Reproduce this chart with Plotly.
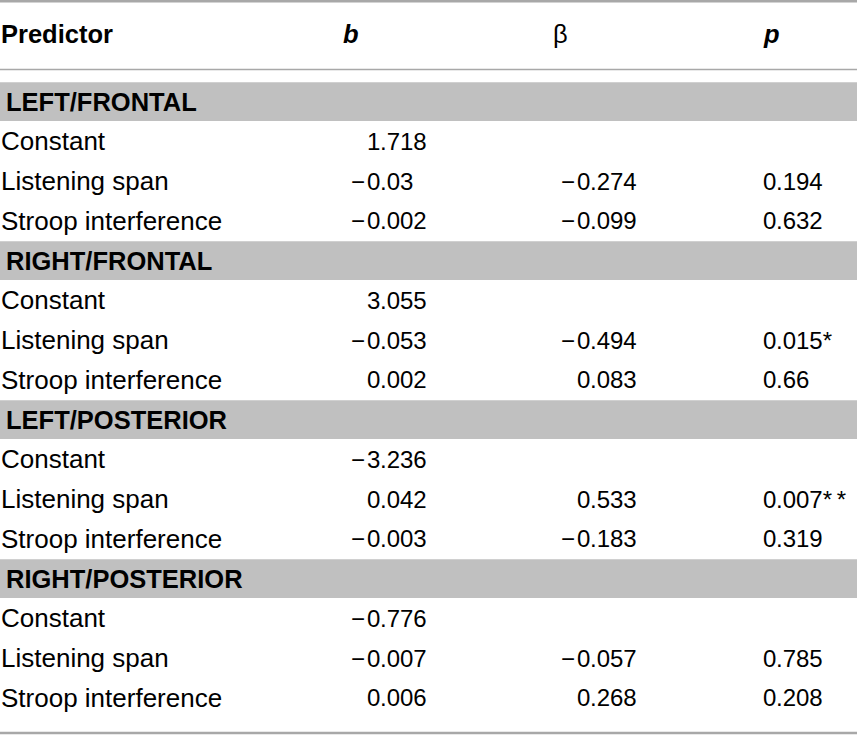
import plotly.graph_objects as go

# table content
sections = ["LEFT/FRONTAL", "RIGHT/FRONTAL", "LEFT/POSTERIOR", "RIGHT/POSTERIOR"]
predictors = ["Constant", "Listening span", "Stroop interference"]
headers = ["Predictor", "<b><i>b</i></b>", "β", "<b><i>p</i></b>"]

b_values = [[1.718, -0.03, -0.002],
            [3.055, -0.053, 0.002],
            [-3.236, 0.042, -0.003],
            [-0.776, -0.007, 0.006]]
beta_values = [[None, -0.274, -0.099],
               [None, -0.494, 0.083],
               [None, 0.533, -0.183],
               [None, -0.057, 0.268]]
p_values = [[None, 0.194, 0.632],
            [None, 0.015, 0.66],
            [None, 0.007, 0.319],
            [None, 0.785, 0.208]]
p_stars = [["", "", ""],
           ["", "*", ""],
           ["", "*\u2009*", ""],
           ["", "", ""]]

# layout (pixels)
W, H = 857, 735
FONT = "Liberation Sans"
LABEL_SIZE = 26
BOLD_SIZE = 25.5
NUM_SIZE = 24
header_y = 34
first_row = 101.5
pitch = 39.75
header_x = [1, 343, 553, 763]
section_x = 6
decimal_x = [380, 590, 776]
band_color = "#c0c0c0"
rule_color = "#a8a8a8"

fig = go.Figure()
annotations = []
shapes = []


def add_text(x, y, text, anchor="left", bold=False, size=LABEL_SIZE):
    if bold:
        text = "<b>" + text + "</b>"
    annotations.append(dict(x=x, y=y, xref="x", yref="y", text=text, showarrow=False,
                            xanchor=anchor, yanchor="middle",
                            borderpad=0, borderwidth=0,
                            font=dict(family=FONT, size=size, color="black")))


def add_number(col, y, value, suffix=""):
    if value is None:
        return
    # decimal-aligned: whole part ends at the point, fraction starts there
    s = str(value).replace("-", "\u2212\u200a")
    whole, frac = s.split(".")
    add_text(decimal_x[col], y, whole, anchor="right", size=NUM_SIZE)
    add_text(decimal_x[col], y, "." + frac + suffix, anchor="left", size=NUM_SIZE)


# header row
for i, h in enumerate(headers):
    add_text(header_x[i], header_y, h, bold=(i == 0), size=BOLD_SIZE)

row = 0
for s, name in enumerate(sections):
    yc = first_row + row * pitch
    shapes.append(dict(type="rect", xref="x", yref="y", x0=0, x1=W,
                       y0=yc - pitch / 2 + 0.5, y1=yc + pitch / 2 - 0.5,
                       fillcolor=band_color, line_width=0, layer="below"))
    add_text(section_x, yc, name, bold=True, size=BOLD_SIZE)
    row += 1
    for k, pred in enumerate(predictors):
        yc = first_row + row * pitch
        add_text(header_x[0], yc, pred)
        add_number(0, yc, b_values[s][k])
        add_number(1, yc, beta_values[s][k])
        add_number(2, yc, p_values[s][k], p_stars[s][k])
        row += 1

# horizontal rules
for y0, w in [(1, 3), (69.5, 1.5), (733, 2.5)]:
    shapes.append(dict(type="line", xref="x", yref="y", x0=0, x1=W, y0=y0, y1=y0,
                       line=dict(color=rule_color, width=w)))

fig.update_layout(
    width=W, height=H,
    margin=dict(l=0, r=0, t=0, b=0),
    paper_bgcolor="white", plot_bgcolor="white",
    xaxis=dict(range=[0, W], visible=False, fixedrange=True),
    yaxis=dict(range=[H, 0], visible=False, fixedrange=True),
    annotations=annotations, shapes=shapes,
    showlegend=False,
)

# page body has a default 8px margin; drop it so the table fills the window
fig.write_html("out.html", config={"displayModeBar": False},
               post_script="document.body.style.margin='0';")
